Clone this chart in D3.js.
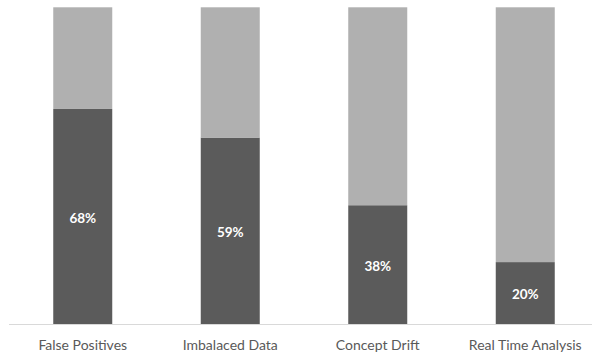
<!DOCTYPE html>
<html><head><meta charset="utf-8">
<script src="https://cdn.jsdelivr.net/npm/d3@7"></script>
<style>body{margin:0;background:#fff}svg{display:block}</style>
</head><body>
<svg id="c" width="592" height="358"></svg>
<script>
const categories = ["False Positives", "Imbalaced Data", "Concept Drift", "Real Time Analysis"];
const yesValues = [68, 59, 37.7, 19.8];
const restValues = [32, 41, 62.3, 80.2];

const svg = d3.select("#c");
const x = d3.scaleBand().domain(categories).range([9, 599]).paddingInner(0.6).paddingOuter(0.3);
const y = d3.scaleLinear().domain([0, 100]).range([325, 7.3]);

const rows = categories.map((c, i) => ({cat: c, yes: yesValues[i], rest: restValues[i]}));
const stack = d3.stack().keys(["yes", "rest"])(rows);
const colors = {yes: "#5b5b5b", rest: "#b0b0b0"};

svg.append("g").selectAll("g").data(stack).join("g")
  .attr("fill", d => colors[d.key])
  .selectAll("rect").data(d => d).join("rect")
  .attr("x", d => x(d.data.cat))
  .attr("width", x.bandwidth())
  .attr("y", d => y(d[1]))
  .attr("height", d => y(d[0]) - y(d[1]));

svg.append("line").attr("x1", 9).attr("x2", 599).attr("y1", 324.5).attr("y2", 324.5)
  .attr("stroke", "#d9d9d9").attr("stroke-width", 1);

svg.append("g").selectAll("text").data(rows).join("text")
  .attr("x", d => x(d.cat) + x.bandwidth() / 2)
  .attr("y", d => (y(0) + y(d.yes)) / 2 + 1)
  .attr("dy", "0.35em")
  .attr("text-anchor", "middle")
  .attr("fill", "#ffffff")
  .attr("font-family", "Lato, 'Open Sans', sans-serif")
  .attr("font-weight", "bold")
  .attr("font-size", 13.5)
  .text(d => Math.round(d.yes) + "%");

svg.append("g").selectAll("text").data(categories).join("text")
  .attr("x", d => x(d) + x.bandwidth() / 2)
  .attr("y", 350)
  .attr("text-anchor", "middle")
  .attr("fill", "#595959")
  .attr("font-family", "Lato, 'Open Sans', sans-serif")
  .attr("font-size", 14)
  .text(d => d);
</script>
</body></html>
